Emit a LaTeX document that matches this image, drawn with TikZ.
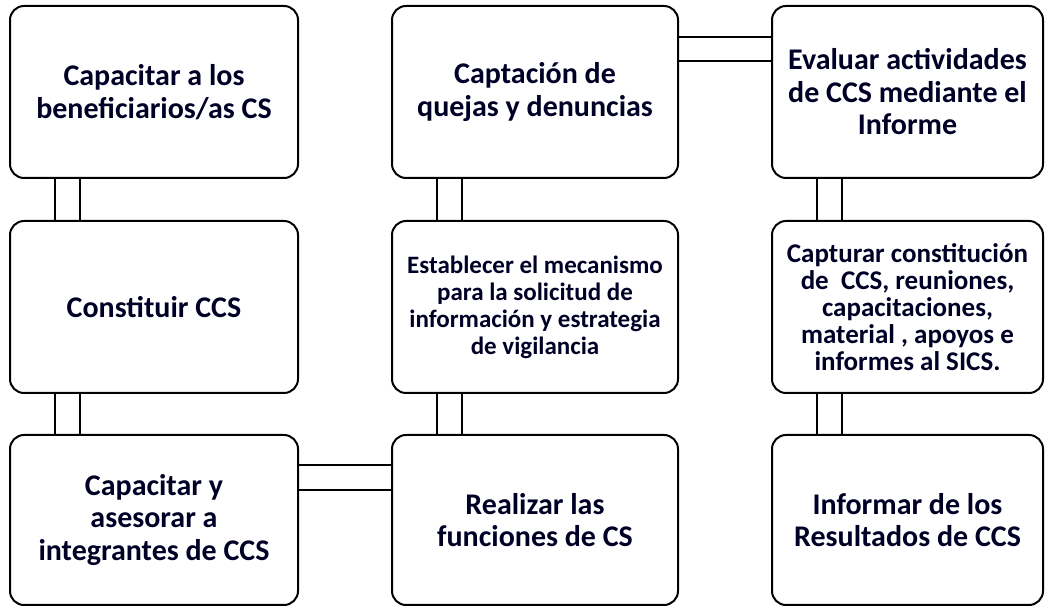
\documentclass[tikz,border=0pt]{standalone}
\usepackage{fontspec}
\setmainfont{Carlito}
\usepackage{tikz}

\tikzset{
  paso/.style={draw, line width=2pt, rounded corners=14pt, align=center,
    font=\bfseries\fontsize{30}{32.5}\selectfont, text=black!85!blue},
  pasochico/.style={paso, font=\bfseries\fontsize{25}{27}\selectfont},
  pasomedio/.style={paso, font=\bfseries\fontsize{27}{27}\selectfont},
  tubo/.style={line width=2pt}
}

\begin{document}
\begin{tikzpicture}[x=1pt,y=1pt]
\useasboundingbox (0,0) rectangle (1049,607);
\node[paso, minimum width=288pt, minimum height=172pt] (cap) at (154,515) {Capacitar a los\\beneficiarios/as CS};
\node[paso, minimum width=288pt, minimum height=172pt] (con) at (154,300) {Constituir CCS};
\node[paso, minimum width=288pt, minimum height=170pt] (ase) at (154,87) {Capacitar y\\asesorar a\\integrantes de CCS};
\node[paso, minimum width=286pt, minimum height=172pt] (que) at (535,515) {Captación de\\quejas y denuncias};
\node[pasochico, minimum width=286pt, minimum height=172pt] (mec) at (535,300) {Establecer el mecanismo\\para la solicitud de\\información y estrategia\\de vigilancia};
\node[paso, minimum width=286pt, minimum height=170pt] (fun) at (535,87) {Realizar las\\funciones de CS};
\node[paso, minimum width=271pt, minimum height=172pt] (eva) at (907.5,515) {Evaluar actividades\\de CCS mediante el\\Informe};
\node[pasomedio, minimum width=271pt, minimum height=172pt] (sics) at (907.5,300) {Capturar constitución\\de\ \ CCS, reuniones,\\capacitaciones,\\material , apoyos e\\informes al SICS.};
\node[paso, minimum width=271pt, minimum height=170pt] (res) at (907.5,87) {Informar de los\\Resultados de CCS};
\draw[tubo] ([xshift=46pt]cap.south west) -- ([xshift=46pt]con.north west);
\draw[tubo] ([xshift=71pt]cap.south west) -- ([xshift=71pt]con.north west);
\draw[tubo] ([xshift=46pt]con.south west) -- ([xshift=46pt]ase.north west);
\draw[tubo] ([xshift=71pt]con.south west) -- ([xshift=71pt]ase.north west);
\draw[tubo] ([yshift=-31pt]ase.north east) -- ([yshift=-31pt]fun.north west);
\draw[tubo] ([yshift=-56pt]ase.north east) -- ([yshift=-56pt]fun.north west);
\draw[tubo] ([xshift=46pt]fun.north west) -- ([xshift=46pt]mec.south west);
\draw[tubo] ([xshift=71pt]fun.north west) -- ([xshift=71pt]mec.south west);
\draw[tubo] ([xshift=46pt]mec.north west) -- ([xshift=46pt]que.south west);
\draw[tubo] ([xshift=71pt]mec.north west) -- ([xshift=71pt]que.south west);
\draw[tubo] ([yshift=-32pt]que.north east) -- ([yshift=-32pt]eva.north west);
\draw[tubo] ([yshift=-56pt]que.north east) -- ([yshift=-56pt]eva.north west);
\draw[tubo] ([xshift=46pt]eva.south west) -- ([xshift=46pt]sics.north west);
\draw[tubo] ([xshift=71pt]eva.south west) -- ([xshift=71pt]sics.north west);
\draw[tubo] ([xshift=46pt]sics.south west) -- ([xshift=46pt]res.north west);
\draw[tubo] ([xshift=71pt]sics.south west) -- ([xshift=71pt]res.north west);
\end{tikzpicture}
\end{document}
